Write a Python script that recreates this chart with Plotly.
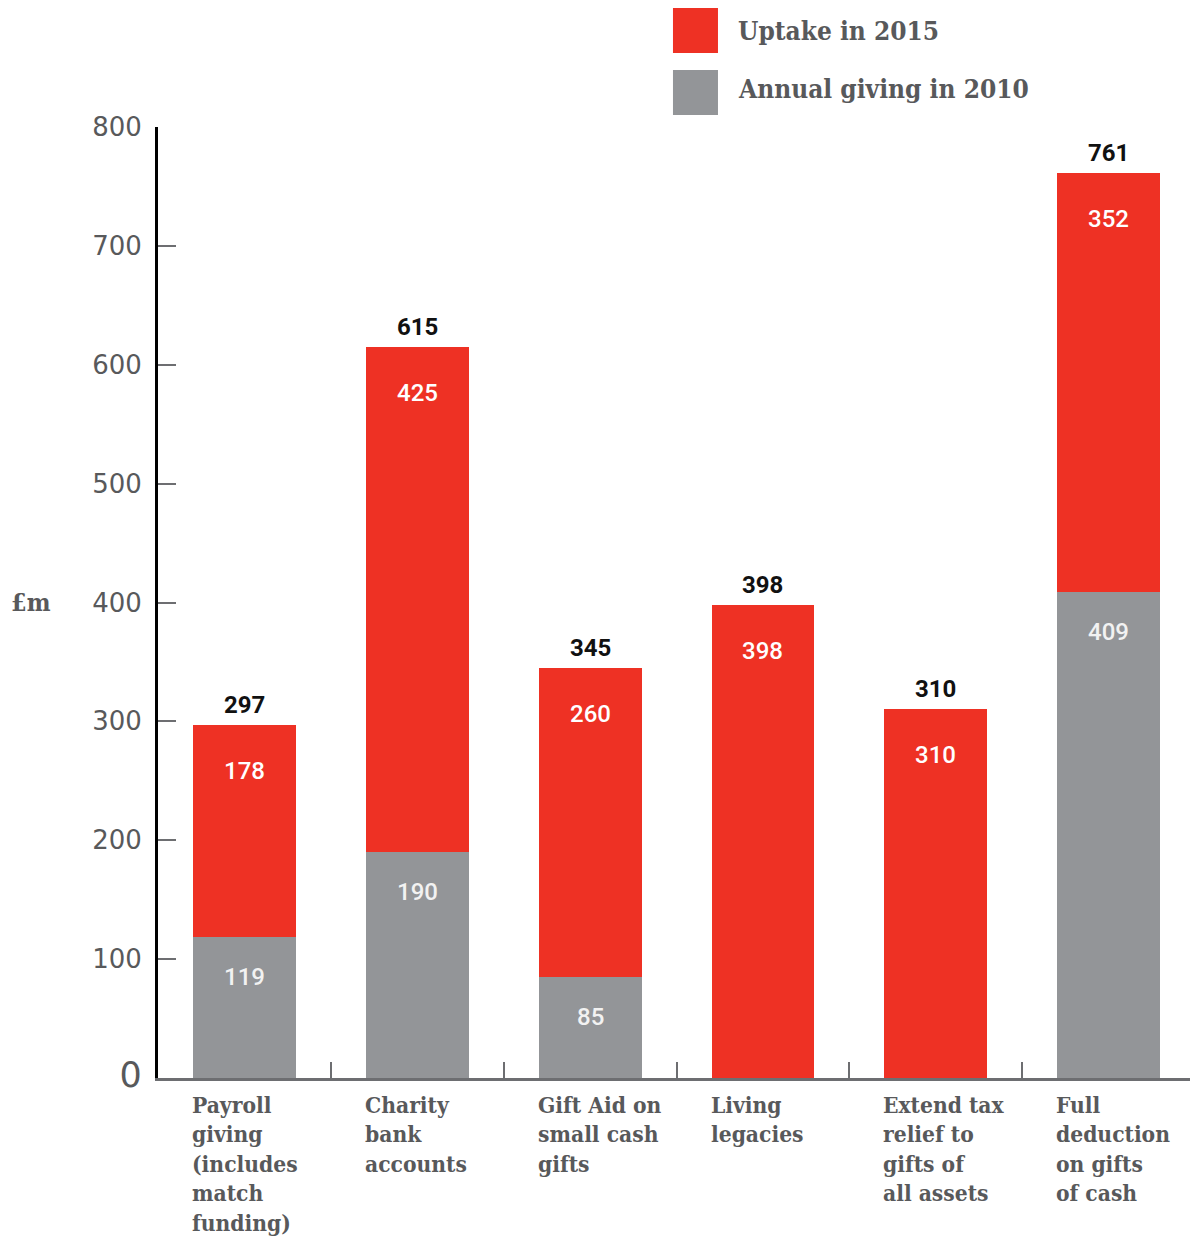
import plotly.graph_objects as go

# ---- data ----
categories = ["Payroll giving (includes match funding)", "Charity bank accounts",
              "Gift Aid on small cash gifts", "Living legacies",
              "Extend tax relief to gifts of all assets", "Full deduction on gifts of cash"]
category_labels = ["Payroll<br>giving<br>(includes<br>match<br>funding)",
                   "Charity<br>bank<br>accounts",
                   "Gift Aid on<br>small cash<br>gifts",
                   "Living<br>legacies",
                   "Extend tax<br>relief to<br>gifts of<br>all assets",
                   "Full<br>deduction<br>on gifts<br>of cash"]
annual_2010 = [119, 190, 85, 0, 0, 409]
uptake_2015 = [178, 425, 260, 398, 310, 352]
totals = [297, 615, 345, 398, 310, 761]
y_ticks = [0, 100, 200, 300, 400, 500, 600, 700, 800]

RED = "#EE3124"
GREY = "#939598"
TEXT = "#58595B"
AXIS = "#6D6E71"
SLAB = "DejaVu Serif Condensed, DejaVu Serif, serif"
SANS = "Roboto, Open Sans, sans-serif"
TICKSANS = "DejaVu Sans, sans-serif"
BW = 0.595

fig = go.Figure()
fig.add_trace(go.Bar(x=categories, y=annual_2010, name="Annual giving in 2010",
                     marker=dict(color=GREY, line=dict(width=0)), width=BW))
fig.add_trace(go.Bar(x=categories, y=uptake_2015, name="Uptake in 2015",
                     marker=dict(color=RED, line=dict(width=0)), width=BW))

annotations = []
for i, cat in enumerate(categories):
    # totals above bars
    annotations.append(dict(x=i, y=totals[i], text=str(totals[i]), showarrow=False,
                            yanchor="bottom", yshift=4,
                            font=dict(family=SANS, size=24, color="#111111", weight="bold")))
    # value inside red segment
    top = annual_2010[i] + uptake_2015[i]
    annotations.append(dict(x=i, y=top, text=str(uptake_2015[i]), showarrow=False,
                            yanchor="top", yshift=-30,
                            font=dict(family=SANS, size=24, color="white", weight=500)))
    if annual_2010[i] > 0:
        annotations.append(dict(x=i, y=annual_2010[i], text=str(annual_2010[i]), showarrow=False,
                                yanchor="top", yshift=-24,
                                font=dict(family=SANS, size=24, color="#F2F2F2", weight=500)))
    # category labels
    annotations.append(dict(x=i - BW / 2, y=0, xref="x", yref="paper", text=category_labels[i],
                            showarrow=False, xanchor="left", yanchor="top", yshift=-12, xshift=-3,
                            align="left",
                            font=dict(family=SLAB, size=22.6, color=TEXT, weight="bold")))

# y axis title
annotations.append(dict(x=0, xref="paper", y=400, yref="y", text="£m", showarrow=False,
                        xanchor="center", xshift=-127,
                        font=dict(family=SLAB, size=25, color=TEXT, weight="bold")))

# manual legend
legend_items = [("Uptake in 2015", RED, 1.1251, 1.0778, 0),
                ("Annual giving in 2010", GREY, 1.0599, 1.0126, 4)]
shapes = []
for label, col, y1, y0, ys in legend_items:
    shapes.append(dict(type="rect", xref="paper", yref="paper", x0=0.4966, x1=0.540,
                       y0=y0, y1=y1, fillcolor=col, line=dict(width=0)))
    annotations.append(dict(x=0.5574, xref="paper", y=(y0 + y1) / 2, yref="paper", text=label,
                            showarrow=False, xanchor="left", yanchor="middle", yshift=ys,
                            font=dict(family=SLAB, size=26, color=TEXT, weight="bold")))

tick_text = ['<span style="font-size:35px">0</span>'] + [str(v) for v in y_ticks[1:]]

fig.update_layout(
    barmode="stack",
    width=1190, height=1232,
    margin=dict(l=150, r=3, t=119, b=162),
    plot_bgcolor="white", paper_bgcolor="white",
    showlegend=False,
    annotations=annotations,
    shapes=shapes,
    xaxis=dict(type="category", range=[-0.5, 5.5], showticklabels=False,
               tickson="boundaries", ticks="inside", ticklen=16, tickwidth=2, tickcolor=AXIS,
               showline=True, linecolor=AXIS, linewidth=3, showgrid=False, zeroline=False),
    yaxis=dict(range=[0, 800], tickmode="array", tickvals=y_ticks, ticktext=tick_text,
               ticks="inside", ticklen=18, tickwidth=2, tickcolor=AXIS,
               showline=True, linecolor="black", linewidth=3, showgrid=False, zeroline=False,
               tickfont=dict(family=TICKSANS, size=26, color=TEXT), ticklabelstandoff=8),
)

fig.write_html("out.html")
